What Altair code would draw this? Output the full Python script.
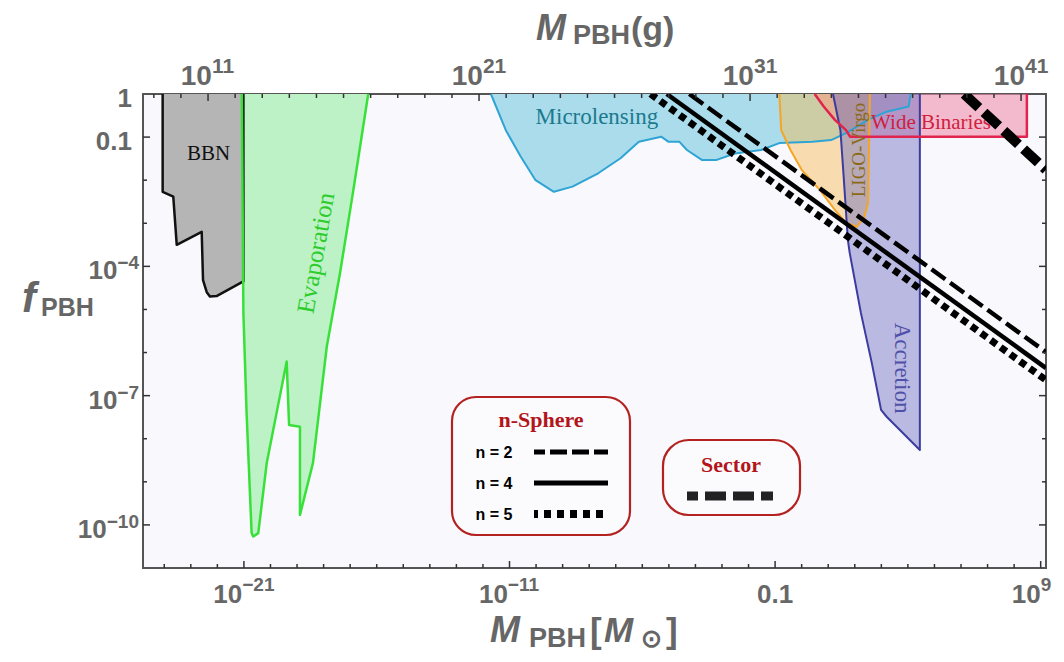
import altair as alt
import pandas as pd

# ---------------- data: x = log10(M_PBH / M_sun), y = log10(f_PBH) ----------------
bbn_x = [-24.06, -24.06, -23.66, -23.53, -22.59, -22.54, -22.40, -22.28, -22.03, -21.02, -21.02]
bbn_y = [0.0, -2.27, -2.38, -3.50, -3.20, -4.32, -4.60, -4.70, -4.69, -4.35, 0.0]

evap_x = [-21.08, -21.02, -20.90, -20.71, -20.65, -20.46, -20.14, -19.77, -19.39, -19.30,
          -18.89, -18.89, -18.40, -17.88, -17.38, -16.88, -16.32]
evap_y = [0.0, -5.08, -7.40, -10.19, -10.27, -10.19, -8.56, -7.40, -6.21, -7.68,
          -7.72, -9.77, -8.56, -5.86, -4.15, -2.23, 0.0]

micro_x = [-11.70, -11.14, -10.58, -10.02, -9.33, -8.63, -7.66, -6.82, -6.13, -5.29, -5.01,
           -4.60, -4.32, -3.76, -3.20, -2.51, -1.53, -0.84, 0.41, 1.11, 1.67, 2.50, 3.20,
           4.03, 4.10]
micro_y = [0.0, -0.84, -1.45, -2.00, -2.27, -2.15, -1.84, -1.49, -1.11, -0.99, -1.11,
           -1.11, -1.30, -1.53, -1.53, -1.38, -1.30, -1.14, -1.11, -1.07, -0.91, -0.60,
           -0.41, -0.29, 0.0]

ligo_x = [-0.84, -0.77, -0.42, 0.00, 0.69, 1.25, 1.67, 2.08, 2.36, 2.50, 2.57]
ligo_y = [0.0, -0.84, -1.30, -1.76, -2.23, -2.69, -2.99, -3.08, -2.85, -2.54, 0.0]

accr_x = [1.18, 1.46, 1.59, 1.74, 1.81, 2.23, 2.64, 2.99, 3.20, 4.45, 4.45]
accr_y = [0.0, -0.84, -2.00, -3.39, -3.69, -5.08, -6.24, -7.33, -7.49, -8.26, 0.0]

wide_x = [0.49, 0.83, 1.25, 1.67, 1.82, 8.48, 8.48]
wide_y = [0.0, -0.29, -0.60, -0.84, -0.99, -0.99, 0.0]

n2_x, n2_y = [-4.23, 9.2], [0.0, -5.99]
n4_x, n4_y = [-5.08, 9.2], [0.0, -6.36]
n5_x, n5_y = [-5.69, 9.2], [0.0, -6.64]
sector_x, sector_y = [6.12, 9.2], [0.0, -1.76]

region_names = ["BBN", "Evaporation", "Microlensing", "LIGO-Virgo", "Accretion", "Wide Binaries"]
region_lab_x = [-22.33, -18.29, -7.71, 2.16, 3.76, 4.87]
region_lab_y = [-1.39, -3.69, -0.53, -1.30, -6.36, -0.67]

bottom_ticks = [-21, -11, -1, 9]
bottom_base = ["10", "10", "0.1", "10"]
bottom_sup = ["\u221221", "\u221211", "", "9"]

top_ticks = [11, 21, 31, 41]
top_base = ["10", "10", "10", "10"]
top_sup = ["11", "21", "31", "41"]

left_ticks = [0, -1, -4, -7, -10]
left_base = ["1", "0.1", "10", "10", "10"]
left_sup = ["", "", "\u22124", "\u22127", "\u221210"]

legend_rows = ["n = 2", "n = 4", "n = 5"]

# ---------------- layout / style ----------------
W, H = 903, 474
XDOM = [-24.8, 9.2]
YDOM = [-11.0, 0.0]
GDOM = [8.6, 41.92]
XS = alt.Scale(domain=XDOM, nice=False, zero=False)
YS = alt.Scale(domain=YDOM, nice=False, zero=False)
GS = alt.Scale(domain=GDOM, nice=False, zero=False)
LABEL_C = "#676767"
SANS = "Liberation Sans"
SERIF = "Liberation Serif"
one = pd.DataFrame({"k": [0]})


def rdf(xs, ys):
    return pd.DataFrame({"m": xs, "f": ys, "top": [0.0] * len(xs), "i": list(range(len(xs)))})


def area(xs, ys, fill, op):
    return alt.Chart(rdf(xs, ys)).mark_area(fill=fill, fillOpacity=op).encode(
        x=alt.X("m:Q", scale=XS, axis=None),
        y=alt.Y("f:Q", scale=YS, axis=None),
        y2="top:Q",
    )


def outline(xs, ys, color, w):
    return alt.Chart(rdf(xs, ys)).mark_line(color=color, strokeWidth=w, strokeJoin="round").encode(
        x=alt.X("m:Q", scale=XS, axis=None),
        y=alt.Y("f:Q", scale=YS, axis=None),
        order="i:Q",
    )


def bline(xs, ys, w, dash=None):
    kw = dict(color="black", strokeWidth=w, clip=True, strokeCap="butt")
    if dash:
        kw["strokeDash"] = dash
    return alt.Chart(rdf(xs, ys)).mark_line(**kw).encode(
        x=alt.X("m:Q", scale=XS, axis=None),
        y=alt.Y("f:Q", scale=YS, axis=None),
        order="i:Q",
    )


def ptext(x, y, t, size, color="#666666", font=SANS, weight="bold", style="normal",
          align="left", baseline="alphabetic", angle=0):
    return alt.Chart(pd.DataFrame({"t": [t]})).mark_text(
        font=font, fontSize=size, fontWeight=weight, fontStyle=style, color=color,
        align=align, baseline=baseline, angle=angle,
    ).encode(x=alt.value(x), y=alt.value(y), text="t:N")


def prule(x, x2, y, w, dash=None, offset=0, color="black"):
    kw = dict(color=color, strokeWidth=w, strokeCap="butt")
    if dash:
        kw["strokeDash"] = dash
        kw["strokeDashOffset"] = offset
    return alt.Chart(one).mark_rule(**kw).encode(x=alt.value(x), x2=alt.value(x2), y=alt.value(y))


def dig_w(s, size):
    wmap = {"\u2212": 0.584, ".": 0.278}
    return sum(wmap.get(c, 0.556) for c in s) * size


layers = []
# regions
layers += [
    area(bbn_x, bbn_y, "#b5b5b5", 1.0),
    area(evap_x, evap_y, "#bcf2c6", 1.0),
    area(micro_x, micro_y, "#aadcec", 1.0),
    area(wide_x, wide_y, "#ef8fae", 0.6),
    area(ligo_x, ligo_y, "#f7b850", 0.45),
    area(accr_x, accr_y, "#6a6abf", 0.45),
    outline(bbn_x, bbn_y, "#111111", 2.5),
    outline(evap_x, evap_y, "#3ae03a", 2.5),
    outline(micro_x, micro_y, "#2fa4d4", 2),
    outline(ligo_x, ligo_y, "#f5a623", 2),
    outline(accr_x, accr_y, "#3c3ca0", 2),
    outline(wide_x, wide_y, "#e0244e", 2.5),
]

# region labels
lab_style = {
    "BBN": dict(color="#111111", size=21, angle=0),
    "Evaporation": dict(color="#2ccc2c", size=25, angle=280),
    "Microlensing": dict(color="#1b7a8c", size=23, angle=0),
    "LIGO-Virgo": dict(color="#8a6a1a", size=19, angle=270),
    "Accretion": dict(color="#5050a8", size=23, angle=90),
    "Wide Binaries": dict(color="#d0203e", size=21, angle=0),
}
for name, lx, ly in zip(region_names, region_lab_x, region_lab_y):
    st = lab_style[name]
    layers.append(
        alt.Chart(pd.DataFrame({"m": [lx], "f": [ly], "t": [name]})).mark_text(
            font=SERIF, fontSize=st["size"], color=st["color"], angle=st["angle"],
            align="center", baseline="middle",
        ).encode(x=alt.X("m:Q", scale=XS, axis=None), y=alt.Y("f:Q", scale=YS, axis=None), text="t:N")
    )

# n-sphere and sector lines
layers += [
    bline(n2_x, n2_y, 4.5, [17, 6]),
    bline(n4_x, n4_y, 4.5),
    bline(n5_x, n5_y, 7, [7, 5]),
    bline(sector_x, sector_y, 10, [20, 7]),
]

# inward ticks (bottom, left, right)
bt = pd.DataFrame({"v": list(range(-24, 10))})
bt["len"] = [7 if v in bottom_ticks else 4 for v in bt["v"]]
for ln in (4, 7):
    d = bt[bt["len"] == ln]
    layers.append(alt.Chart(d).mark_rule(color="#333333", strokeWidth=1.5).encode(
        x=alt.X("v:Q", scale=XS, axis=None), y=alt.value(H), y2=alt.value(H - ln)))
lt = pd.DataFrame({"v": list(range(-10, 0))})
lt["len"] = [7 if v in left_ticks else 4 for v in lt["v"]]
for ln in (4, 7):
    d = lt[lt["len"] == ln]
    layers.append(alt.Chart(d).mark_rule(color="#333333", strokeWidth=1.5).encode(
        y=alt.Y("v:Q", scale=YS, axis=None), x=alt.value(0), x2=alt.value(ln)))
    layers.append(alt.Chart(d).mark_rule(color="#333333", strokeWidth=1.5).encode(
        y=alt.Y("v:Q", scale=YS, axis=None), x=alt.value(W), x2=alt.value(W - ln)))

# bottom tick labels
BS, SS = 26, 19
for idx, (v, b, s) in enumerate(zip(bottom_ticks, bottom_base, bottom_sup)):
    df = pd.DataFrame({"v": [v], "b": [b], "s": [s]})
    if s == "":
        layers.append(alt.Chart(df).mark_text(font=SANS, fontWeight="bold", fontSize=BS, color=LABEL_C,
                                              align="center", baseline="alphabetic").encode(
            x=alt.X("v:Q", scale=XS, axis=None), y=alt.value(H + 35), text="b:N"))
    else:
        dx = (dig_w(b, BS) - dig_w(s, SS)) / 2
        if idx == len(bottom_ticks) - 1:
            dx = min(dx, 0.0)  # keep the last label inside the page
        layers.append(alt.Chart(df).mark_text(font=SANS, fontWeight="bold", fontSize=BS, color=LABEL_C,
                                              align="right", baseline="alphabetic", dx=dx).encode(
            x=alt.X("v:Q", scale=XS, axis=None), y=alt.value(H + 35), text="b:N"))
        layers.append(alt.Chart(df).mark_text(font=SANS, fontWeight="bold", fontSize=SS, color=LABEL_C,
                                              align="left", baseline="alphabetic", dx=dx).encode(
            x=alt.X("v:Q", scale=XS, axis=None), y=alt.value(H + 23), text="s:N"))

# left tick labels
for v, b, s in zip(left_ticks, left_base, left_sup):
    df = pd.DataFrame({"v": [v], "b": [b], "s": [s]})
    if s == "":
        layers.append(alt.Chart(df).mark_text(font=SANS, fontWeight="bold", fontSize=BS, color=LABEL_C,
                                              align="right", baseline="alphabetic", dy=13).encode(
            y=alt.Y("v:Q", scale=YS, axis=None), x=alt.value(-11), text="b:N"))
    else:
        anchor = -4 - dig_w(s, SS)
        layers.append(alt.Chart(df).mark_text(font=SANS, fontWeight="bold", fontSize=BS, color=LABEL_C,
                                              align="right", baseline="alphabetic", dy=13).encode(
            y=alt.Y("v:Q", scale=YS, axis=None), x=alt.value(anchor), text="b:N"))
        layers.append(alt.Chart(df).mark_text(font=SANS, fontWeight="bold", fontSize=SS, color=LABEL_C,
                                              align="left", baseline="alphabetic", dy=3).encode(
            y=alt.Y("v:Q", scale=YS, axis=None), x=alt.value(anchor), text="s:N"))

# axis titles (pixel positions relative to plot origin)
layers += [
    ptext(393, -54, "M", 36, style="italic"),
    ptext(430, -50, "PBH", 27),
    ptext(488, -54, "(g)", 34),
    ptext(347, 548, "M", 36, style="italic"),
    ptext(386, 553, "PBH", 27),
    ptext(447, 549, "[", 35),
    ptext(461, 548, "M", 35, style="italic"),
    ptext(498, 553, "\u2299", 25),
    ptext(523, 549, "]", 35),
    ptext(-121, 218, "f", 42, style="italic"),
    ptext(-102, 222, "PBH", 25),
]

# legend boxes
box_c = "#b3221f"
layers += [
    alt.Chart(one).mark_rect(fill="#fbfbfe", stroke=box_c, strokeWidth=2.2, cornerRadius=24).encode(
        x=alt.value(309), x2=alt.value(487), y=alt.value(303), y2=alt.value(441)),
    alt.Chart(one).mark_rect(fill="#fbfbfe", stroke=box_c, strokeWidth=2.2, cornerRadius=26).encode(
        x=alt.value(520), x2=alt.value(657), y=alt.value(346), y2=alt.value(421)),
    ptext(398, 326, "n-Sphere", 22, color="#b2151a", font=SERIF, align="center", baseline="middle"),
    ptext(588, 371, "Sector", 22, color="#b2151a", font=SERIF, align="center", baseline="middle"),
]
row_y = [359, 390, 421]
for t, yy in zip(legend_rows, row_y):
    layers.append(ptext(351, yy, t, 16, color="black", align="center", baseline="middle"))
layers += [
    prule(391, 465, 358, 5, [17, 5], 6),
    prule(391, 465, 389, 5),
    prule(391, 465, 420, 8, [7, 6], 3),
    prule(544, 630, 402, 9, [21, 7], 10, color="#222222"),
]

main = alt.layer(*layers)

# top (gram) axis: own scale
tt = pd.DataFrame({"v": list(range(9, 42))})
tt["len"] = [7 if v in top_ticks else 4 for v in tt["v"]]
top_layers = []
for ln in (4, 7):
    d = tt[tt["len"] == ln]
    top_layers.append(alt.Chart(d).mark_rule(color="#333333", strokeWidth=1.5).encode(
        x=alt.X("v:Q", scale=GS, axis=None), y=alt.value(0), y2=alt.value(ln)))
TB, TS = 28, 21
for v, b, s in zip(top_ticks, top_base, top_sup):
    df = pd.DataFrame({"v": [v], "b": [b], "s": [s]})
    dx = (dig_w(b, TB) - dig_w(s, TS)) / 2
    top_layers.append(alt.Chart(df).mark_text(font=SANS, fontWeight="bold", fontSize=TB, color=LABEL_C,
                                              align="right", baseline="alphabetic", dx=dx).encode(
        x=alt.X("v:Q", scale=GS, axis=None), y=alt.value(-9), text="b:N"))
    top_layers.append(alt.Chart(df).mark_text(font=SANS, fontWeight="bold", fontSize=TS, color=LABEL_C,
                                              align="left", baseline="alphabetic", dx=dx).encode(
        x=alt.X("v:Q", scale=GS, axis=None), y=alt.value(-21), text="s:N"))
top = alt.layer(*top_layers)

chart = alt.layer(main, top).resolve_scale(x="independent").properties(
    width=W, height=H,
    padding={"left": 135, "top": 86, "right": 10, "bottom": 86},
    autosize=alt.AutoSizeParams(type="none"),
    background="white",
).configure_view(fill="#f9f9fd", stroke="#555555", strokeWidth=2)

chart.save("out.html", embed_options={"renderer": "svg", "actions": False})
